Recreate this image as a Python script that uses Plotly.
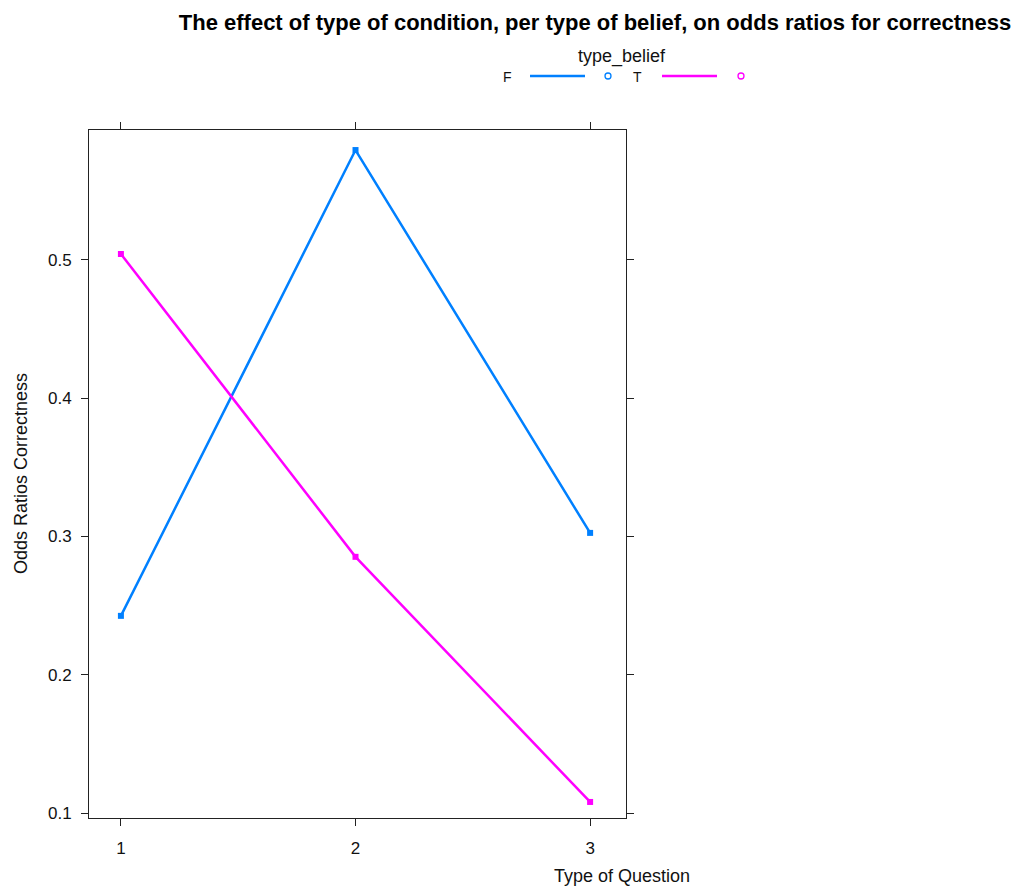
import plotly.graph_objects as go

# Data
question_types = [1, 2, 3]
belief_F = [0.2426, 0.5795, 0.3026]
belief_T = [0.5043, 0.2853, 0.1080]
series_names = ["F", "T"]
colors = ["#0080ff", "#ff00ff"]

OFF = 8  # page body margin
W, H = 1026 - OFF, 886 - OFF
# plot box in page pixels
L, R, T, B = 89, 626, 130, 818

def px(x):
    return (x - L) / (R - L)

def py(y):
    return (B - y) / (B - T)

fig = go.Figure()
for name, vals, col in zip(series_names, [belief_F, belief_T], colors):
    fig.add_trace(go.Scatter(
        x=question_types, y=vals, mode="lines+markers", name=name,
        line=dict(color=col, width=2.5),
        marker=dict(symbol="square", size=6, color=col),
        showlegend=False,
    ))

font = "Liberation Sans, Arial, sans-serif"
fig.update_layout(
    width=W, height=H,
    margin=dict(l=L - OFF, r=W - (R - OFF), t=T - OFF, b=H - (B - OFF), autoexpand=False),
    plot_bgcolor="white", paper_bgcolor="white",
    font=dict(family=font, size=17, color="#111"),
    title=dict(text="<b>The effect of type of condition, per type of belief, on odds ratios for correctness</b>",
               x=(595 - OFF) / W, xanchor="center", y=1 - (22 - OFF) / H, yanchor="middle",
               font=dict(size=22, color="black", family=font)),
    xaxis=dict(range=[0.864, 3.153], tickvals=question_types, ticktext=[str(v) for v in question_types],
               showgrid=False, zeroline=False, showline=True, linecolor="#222", linewidth=1,
               mirror="allticks", ticks="outside", ticklen=7, tickcolor="#222",
               tickfont=dict(size=17, color="#111"), ticklabelstandoff=8),
    yaxis=dict(range=[0.0964, 0.594], tickvals=[0.1, 0.2, 0.3, 0.4, 0.5],
               ticktext=["0.1", "0.2", "0.3", "0.4", "0.5"],
               showgrid=False, zeroline=False, showline=True, linecolor="#222", linewidth=1,
               mirror="allticks", ticks="outside", ticklen=7, tickcolor="#222",
               tickfont=dict(size=17, color="#111"), ticklabelstandoff=6),
)

# y-axis title
fig.add_annotation(text="Odds Ratios Correctness", xref="paper", yref="paper",
                   x=px(21), y=py(474), showarrow=False, textangle=-90,
                   xanchor="center", yanchor="middle", font=dict(size=18, color="#111"))
# x-axis title (placed to the right as in the reference)
fig.add_annotation(text="Type of Question", xref="paper", yref="paper",
                   x=px(622), y=py(876), showarrow=False, xanchor="center", yanchor="middle",
                   font=dict(size=18, color="#111"))

# Custom legend
fig.add_annotation(text="type_belief", xref="paper", yref="paper",
                   x=px(622), y=py(57), showarrow=False, xanchor="center", yanchor="middle",
                   font=dict(size=18, color="#111"))
legend_items = [("F", 507, 530, 585, 608), ("T", 637, 662, 717, 741)]
for (lab, lx, x0, x1, cx), col in zip(legend_items, colors):
    fig.add_annotation(text=lab, xref="paper", yref="paper", x=px(lx), y=py(77),
                       showarrow=False, xanchor="center", yanchor="middle",
                       font=dict(size=14, color="#111"))
    fig.add_shape(type="line", xref="paper", yref="paper", x0=px(x0), x1=px(x1),
                  y0=py(76), y1=py(76), line=dict(color=col, width=2.5))
    fig.add_shape(type="circle", xref="paper", yref="paper", xsizemode="pixel", ysizemode="pixel",
                  xanchor=px(cx), yanchor=py(76), x0=-3, x1=3, y0=-3, y1=3,
                  line=dict(color=col, width=1.3))

fig.write_html("out.html")
